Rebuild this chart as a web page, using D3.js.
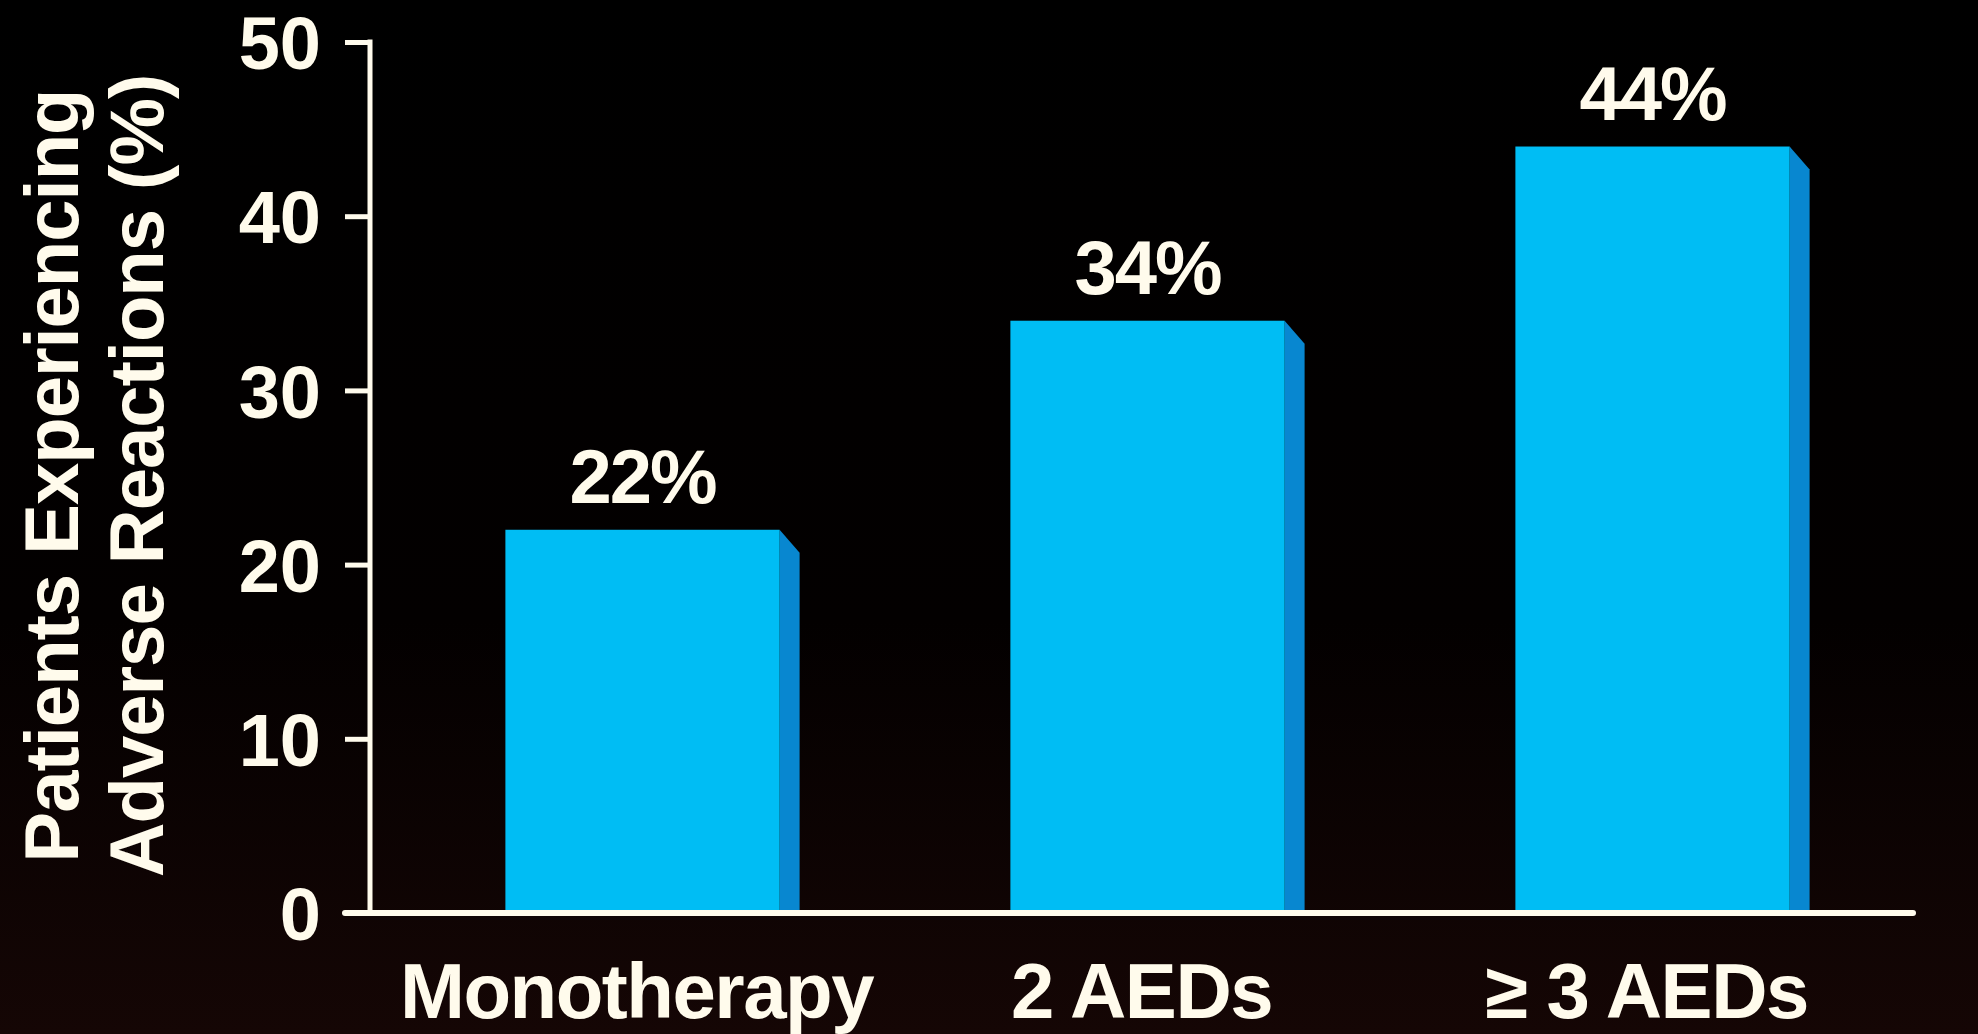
<!DOCTYPE html>
<html>
<head>
<meta charset="utf-8">
<script src="https://cdn.jsdelivr.net/npm/d3@7"></script>
<style>
  html, body { margin: 0; padding: 0; background: #000; }
  svg { display: block; }
  text { font-family: "Liberation Sans", Arial, Helvetica, sans-serif; font-weight: bold; fill: #fffbec; }
</style>
</head>
<body>
<div id="chart"></div>
<script>
var categories = ['Monotherapy', '2 AEDs', '\u2265 3 AEDs'];
var values = [22, 34, 44];
var yTicks = [0, 10, 20, 30, 40, 50];
var yTitle = ['Patients Experiencing', 'Adverse Reactions (%)'];

var width = 1978, height = 1034;
var front = '#00bdf4', side = '#0887d0', ink = '#fffbec';

var svg = d3.select('#chart').append('svg').attr('width', width).attr('height', height);

// dark slide background, a touch warmer at the bottom
var grad = svg.append('defs').append('linearGradient').attr('id', 'bg').attr('x1', 0).attr('y1', 0).attr('x2', 0).attr('y2', 1);
grad.append('stop').attr('offset', '0%').attr('stop-color', '#000000');
grad.append('stop').attr('offset', '60%').attr('stop-color', '#030000');
grad.append('stop').attr('offset', '100%').attr('stop-color', '#150605');
svg.append('rect').attr('width', width).attr('height', height).attr('fill', 'url(#bg)');

var x = d3.scaleBand().domain(categories).range([390, 1905]).paddingInner(0.457).paddingOuter(0.2285);
var y = d3.scaleLinear().domain([0, 50]).range([913, 42]);

var depthX = 20, depthY = 23;

// bars with a shaded side face
var bars = svg.selectAll('.bar').data(values).enter().append('g').attr('class', 'bar');
bars.append('path').attr('fill', side).attr('d', function(d, i) {
  var x1 = x(categories[i]) + x.bandwidth();
  return 'M' + x1 + ',' + y(d) + 'L' + (x1 + depthX) + ',' + (y(d) + depthY) +
    'L' + (x1 + depthX) + ',' + y(0) + 'L' + x1 + ',' + y(0) + 'Z';
});
bars.append('rect')
  .attr('x', function(d, i) { return x(categories[i]); })
  .attr('y', function(d) { return y(d); })
  .attr('width', x.bandwidth())
  .attr('height', function(d) { return y(0) - y(d); })
  .attr('fill', front);

bars.append('text')
  .attr('x', function(d, i) { return x(categories[i]) + x.bandwidth() / 2; })
  .attr('y', function(d) { return y(d) - 27; })
  .attr('text-anchor', 'middle')
  .style('font-size', '76px')
  .style('letter-spacing', '-2px')
  .text(function(d) { return d + '%'; });

// y axis
var yAxis = d3.axisLeft(y).tickValues(yTicks).tickSize(25).tickPadding(24);
var ya = svg.append('g').attr('transform', 'translate(370,0)').call(yAxis);
ya.select('.domain').remove();
ya.selectAll('.tick line').attr('stroke', ink).attr('stroke-width', 5);
ya.selectAll('.tick text').style('font-size', '74px').attr('fill', ink).attr('dy', '0.36em');
svg.append('line').attr('x1', 370).attr('x2', 370).attr('y1', y(50) - 2.5).attr('y2', y(0))
  .attr('stroke', ink).attr('stroke-width', 5);

// x axis baseline
svg.append('line').attr('x1', 345).attr('x2', 1913).attr('y1', y(0)).attr('y2', y(0))
  .attr('stroke', ink).attr('stroke-width', 6).attr('stroke-linecap', 'round');

svg.selectAll('.cat').data(categories).enter().append('text').attr('class', 'cat')
  .attr('x', function(d) { return x(d) + x.bandwidth() / 2 - 6; })
  .attr('y', 1018)
  .attr('text-anchor', 'middle')
  .style('font-size', '78px')
  .style('letter-spacing', '-1.5px')
  .text(function(d) { return d; });

// rotated axis title
svg.selectAll('.ytitle').data(yTitle).enter().append('text').attr('class', 'ytitle')
  .attr('transform', function(d, i) { return 'translate(' + (78 + i * 85) + ',476) rotate(-90)'; })
  .attr('text-anchor', 'middle')
  .style('font-size', '76px')
  .style('letter-spacing', '-1px')
  .text(function(d) { return d; });
</script>
</body>
</html>
